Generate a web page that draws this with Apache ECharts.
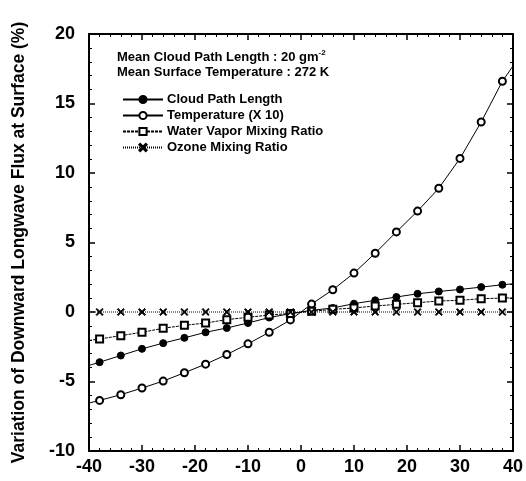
<!DOCTYPE html>
<html><head><meta charset="utf-8">
<script src="https://cdn.jsdelivr.net/npm/echarts@6/dist/echarts.min.js"></script>
<style>html,body{margin:0;padding:0;background:#fff}#c{width:526px;height:481px}</style>
</head><body><div id="c"></div>
<script>
// x positions (ends at ±40 carry no marker)
const xValues = [-40,-38,-34,-30,-26,-22,-18,-14,-10,-6,-2,2,6,10,14,18,22,26,30,34,38,40];
const cloudPathLength = [-3.85,-3.61,-3.13,-2.65,-2.24,-1.86,-1.46,-1.15,-0.79,-0.40,-0.12,0.12,0.29,0.60,0.84,1.08,1.31,1.48,1.62,1.79,1.96,2.03];
const temperatureX10 = [-6.55,-6.36,-5.95,-5.47,-4.97,-4.37,-3.75,-3.06,-2.29,-1.46,-0.57,0.57,1.60,2.80,4.23,5.76,7.26,8.90,11.05,13.67,16.60,17.70];
const waterVapor = [-2.05,-1.94,-1.70,-1.46,-1.17,-0.96,-0.79,-0.55,-0.38,-0.22,-0.10,0.05,0.19,0.29,0.43,0.55,0.67,0.79,0.84,0.96,1.00,1.02];
const ozone = [0,0,0,0,0,0,0,0,0,0,0,0,0,0,0,0,0,0,0,0,0,0];
const seriesNames = ['Cloud Path Length','Temperature (X 10)','Water Vapor Mixing Ratio','Ozone Mixing Ratio'];
const xTicks = {min:-40, max:40, interval:10};
const yTicks = {min:-10, max:20, interval:5};
const yAxisTitle = 'Variation of Downward Longwave Flux at Surface (%)';
const note1 = 'Mean Cloud Path Length : 20 gm';
const note1sup = '-2';
const note2 = 'Mean Surface Temperature : 272 K';

const F = '"Liberation Sans", Arial, sans-serif';
const pairs = arr => xValues.map((x,i)=>[x,arr[i]]);
const last = xValues.length-1;
const symSize = (v,p) => (p.dataIndex===0||p.dataIndex===last)?0:7;
const xMark = 'path://M0,1.2L1.2,0L5,3.8L8.8,0L10,1.2L6.2,5L10,8.8L8.8,10L5,6.2L1.2,10L0,8.8L3.8,5Z';

function mk(name, arr, symbol, type) {
  return {
    name, type:'line', data:pairs(arr), symbol, symbolSize:symSize,
    showAllSymbol:true, animation:false,
    lineStyle:{color:'#000', width:1, type:type},
    itemStyle:{color:'#000', borderColor:'#000', borderWidth:1}
  };
}

const chart = echarts.init(document.getElementById('c'));
const axisCommon = {
  axisLine:{show:true, onZero:false, lineStyle:{color:'#000', width:2}},
  axisTick:{show:true, inside:true, length:6, lineStyle:{color:'#000', width:1.5}},
  minorTick:{show:true, splitNumber:5, length:3, lineStyle:{color:'#000', width:1}},
  splitLine:{show:false}
};
chart.setOption({
  backgroundColor:'#fff',
  animation:false,
  grid:{left:89, right:13, top:34, bottom:30},
  xAxis:[
    Object.assign({type:'value', position:'bottom', min:xTicks.min, max:xTicks.max, interval:xTicks.interval,
      axisLabel:{color:'#000', fontFamily:F, fontWeight:'bold', fontSize:18, margin:7}}, axisCommon),
    Object.assign({type:'value', position:'top', min:xTicks.min, max:xTicks.max, interval:xTicks.interval,
      axisLabel:{show:false}}, axisCommon)
  ],
  yAxis:[
    Object.assign({type:'value', position:'left', min:yTicks.min, max:yTicks.max, interval:yTicks.interval,
      name:yAxisTitle, nameLocation:'middle', nameGap:61, nameRotate:90,
      nameTextStyle:{color:'#000', fontFamily:F, fontWeight:'bold', fontSize:17.5},
      axisLabel:{color:'#000', fontFamily:F, fontWeight:'bold', fontSize:18, margin:14}}, axisCommon),
    Object.assign({type:'value', position:'right', min:yTicks.min, max:yTicks.max, interval:yTicks.interval,
      axisLabel:{show:false}}, axisCommon)
  ],
  legend:{
    orient:'vertical', left:117, top:88, itemGap:3, itemWidth:40, itemHeight:9,
    data:seriesNames,
    textStyle:{color:'#000', fontFamily:F, fontWeight:'bold', fontSize:13, padding:[0,0,0,-1]}
  },
  graphic:[
    {type:'text', left:117, top:49, style:{text:'{a|'+note1+'}{s|'+note1sup+'}', rich:{
      a:{fontFamily:F, fontWeight:'bold', fontSize:13, fill:'#000'},
      s:{fontFamily:F, fontWeight:'bold', fontSize:8, fill:'#000', verticalAlign:'top', padding:[0,0,8,0]}}}},
    {type:'text', left:117, top:66, style:{text:note2, font:'bold 13px '+F, fill:'#000'}}
  ],
  series:[
    mk(seriesNames[0], cloudPathLength, 'circle', 'solid'),
    mk(seriesNames[1], temperatureX10, 'emptyCircle', 'solid'),
    mk(seriesNames[2], waterVapor, 'emptyRect', [3,1]),
    mk(seriesNames[3], ozone, xMark, [1,1])
  ]
});
</script></body></html>
